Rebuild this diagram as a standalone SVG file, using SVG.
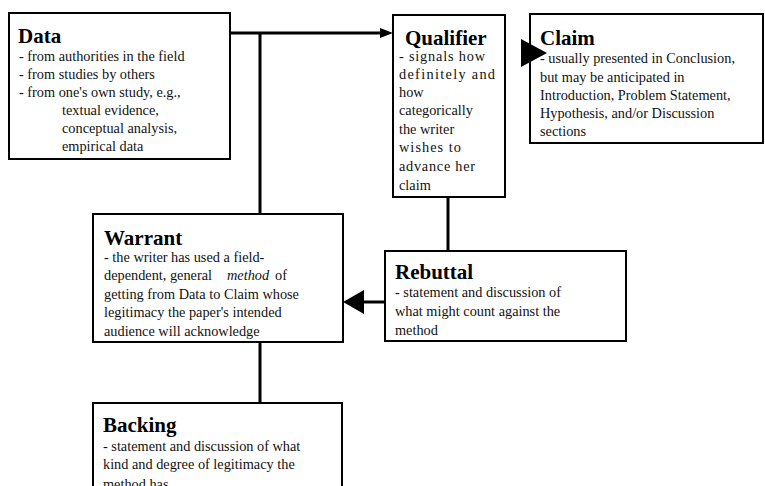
<svg xmlns="http://www.w3.org/2000/svg" width="765" height="486" viewBox="0 0 765 486">
<style>
.box{fill:#fff;stroke:#000;stroke-width:2}
.t{font-family:"Liberation Serif","Times New Roman",serif;font-size:14.3px;fill:#111}
.h{font-family:"Liberation Serif","Times New Roman",serif;font-size:21px;font-weight:bold;fill:#000}
.ln{stroke:#000;stroke-width:3;fill:none}
.ah{fill:#000;stroke:none}
</style>
<rect width="765" height="486" fill="#fff"/>
<g id="data">
<rect class="box" x="9" y="13" width="221" height="146"/>
<text class="h" x="18" y="43">Data</text>
<text class="t" x="19" y="61">- from authorities in the field</text>
<text class="t" x="19" y="79">- from studies by others</text>
<text class="t" x="19" y="97">- from one's own study, e.g.,</text>
<text class="t" x="62" y="115">textual evidence,</text>
<text class="t" x="62" y="133">conceptual analysis,</text>
<text class="t" x="62" y="151">empirical data</text>
</g>
<g id="qualifier">
<rect class="box" x="393" y="15" width="112" height="182"/>
<text class="h" x="405" y="45">Qualifier</text>
<text class="t" x="399" y="61" textLength="86" lengthAdjust="spacing">- signals how</text>
<text class="t" x="399" y="79" textLength="96" lengthAdjust="spacing">definitely  and</text>
<text class="t" x="399" y="97">how</text>
<text class="t" x="399" y="115">categorically</text>
<text class="t" x="399" y="134">the writer</text>
<text class="t" x="399" y="152" textLength="62" lengthAdjust="spacing">wishes to</text>
<text class="t" x="399" y="171" textLength="76" lengthAdjust="spacing">advance her</text>
<text class="t" x="399" y="190">claim</text>
</g>
<g id="claim">
<rect class="box" x="530" y="14" width="233" height="129"/>
<text class="h" x="540" y="45">Claim</text>
<text class="t" x="540" y="63">- usually presented in Conclusion,</text>
<text class="t" x="540" y="82">but may be anticipated in</text>
<text class="t" x="540" y="100">Introduction, Problem Statement,</text>
<text class="t" x="540" y="118">Hypothesis, and/or Discussion</text>
<text class="t" x="540" y="136">sections</text>
</g>
<g id="warrant">
<rect class="box" x="93" y="214" width="250" height="128"/>
<text class="h" x="104" y="245">Warrant</text>
<text class="t" x="104" y="262">- the writer has used a field-</text>
<text class="t" x="104" y="280">dependent, general<tspan x="227" font-style="italic">method</tspan><tspan x="275">of</tspan></text>
<text class="t" x="104" y="299">getting from Data to Claim whose</text>
<text class="t" x="104" y="317">legitimacy the paper's intended</text>
<text class="t" x="104" y="336">audience will acknowledge</text>
</g>
<g id="rebuttal">
<rect class="box" x="385" y="251" width="241" height="90"/>
<text class="h" x="395" y="279">Rebuttal</text>
<text class="t" x="395" y="297">- statement and discussion of</text>
<text class="t" x="395" y="316">what might count against the</text>
<text class="t" x="395" y="335">method</text>
</g>
<g id="backing">
<rect class="box" x="93" y="403" width="249" height="90"/>
<text class="h" x="103" y="432">Backing</text>
<text class="t" x="103" y="451">- statement and discussion of what</text>
<text class="t" x="103" y="469">kind and degree of legitimacy the</text>
<text class="t" x="103" y="489">method has</text>
</g>
<g id="connectors">
<path class="ln" d="M231 33 H382"/>
<polygon class="ah" points="393,33 380,28 380,38"/>
<path class="ln" d="M260 33 V214"/>
<path class="ln" d="M260 342 V403"/>
<path class="ln" d="M448 197 V251"/>
<path class="ln" d="M385 302 H362"/>
<polygon class="ah" points="343,302 364,290 364,314"/>
<polygon class="ah" points="521,39 521,67 547,53"/>
</g>
</svg>
